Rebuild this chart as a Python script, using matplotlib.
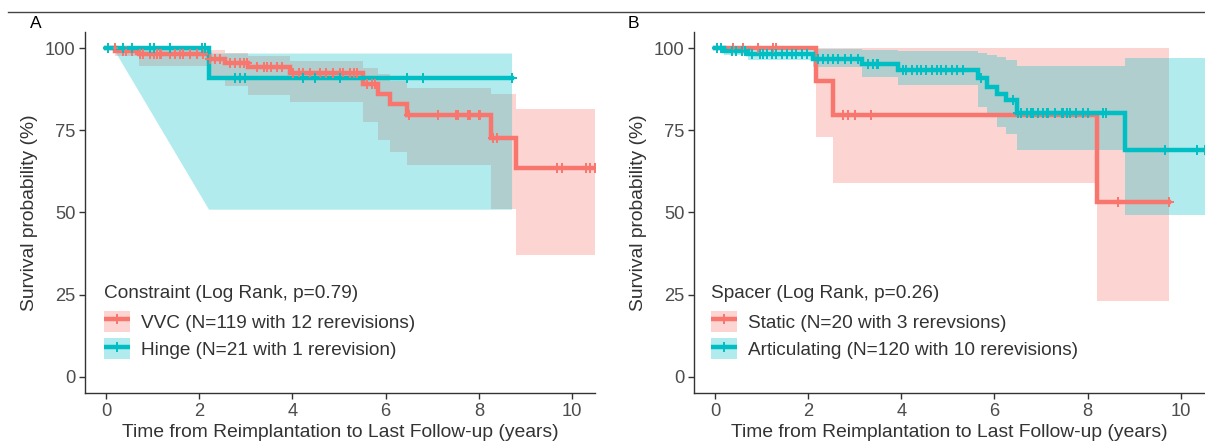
import numpy as np
import matplotlib
matplotlib.use('Agg')
import matplotlib.pyplot as plt
from matplotlib.patches import Patch
from matplotlib.lines import Line2D

plt.rcParams['font.family'] = ['Liberation Sans', 'DejaVu Sans']

RED = '#F8766D'
CYAN = '#00BFC4'

# ---------------- Panel A : Constraint ----------------
vvc_t = [0, 0.2, 0.7, 2.2, 2.55, 3.05, 3.95, 5.52, 5.84, 6.09, 6.45, 8.25, 8.8, 10.48]
vvc_s = [100, 99.1, 98.3, 96.8, 95.4, 94.2, 92.3, 89.1, 86.0, 82.9, 79.7, 72.6, 63.6, 63.6]
vvc_lo = [100, 97.5, 94.5, 91.5, 88.5, 85.7, 83.5, 77.5, 72.0, 68.5, 64.3, 51.0, 37.0, 37.0]
vvc_hi = [100, 100, 99.8, 99.3, 98.6, 97.5, 96.2, 94.0, 92.0, 90.0, 88.0, 86.0, 81.5, 81.5]
vvc_cens = [0.19, 0.37, 0.44, 0.55, 0.73, 0.8, 0.94, 1.02, 1.09, 1.16, 1.19, 1.37, 1.48,
            1.59, 1.66, 1.8, 1.95, 2.09, 2.23, 2.34, 2.45, 2.66, 2.77, 2.88, 2.95, 3.02,
            3.23, 3.38, 3.45, 3.55, 3.66, 3.77, 4.02, 4.13, 4.23, 4.38, 4.59, 4.73, 4.88,
            5.02, 5.09, 5.24, 5.31, 5.38, 5.59, 5.7, 5.77, 6.49, 7.13, 7.5, 7.55, 7.77,
            7.8, 8.0, 8.03, 8.3, 8.38, 9.67, 9.78, 10.3, 10.38, 10.48]

hinge_t = [0, 2.2, 8.7]
hinge_s = [100, 90.9, 90.9]
hinge_ci_t = [0, 0.15, 2.2, 2.2, 8.7]
hinge_lo = [100, 100, 51.0, 51.0, 51.0]
hinge_hi = [100, 100, 100, 98.5, 98.5]
hinge_cens = [0.05, 0.37, 0.55, 0.94, 1.02, 1.37, 2.05, 2.12, 2.77, 2.88, 2.98, 4.23,
              4.48, 5.02, 6.45, 6.81, 8.7]

# ---------------- Panel B : Spacer ----------------
static_t = [0, 2.17, 2.53, 8.2, 9.75]
static_s = [100, 90.0, 79.6, 53.2, 53.2]
static_lo = [100, 73.0, 59.0, 23.0, 23.0]
static_hi = [100, 100, 100, 100, 100]
static_cens = [0.39, 0.61, 0.93, 1.25, 1.32, 2.75, 2.86, 3.0, 3.36, 8.65, 9.75]

art_t = [0, 0.2, 0.7, 2.1, 3.15, 3.93, 5.65, 5.85, 6.05, 6.25, 6.48, 8.8, 10.52]
art_s = [100, 99.2, 98.3, 96.6, 95.3, 93.4, 91.0, 88.3, 86.0, 84.2, 80.4, 69.0, 69.0]
art_lo = [100, 98.0, 96.5, 94.3, 91.3, 88.8, 82.2, 79.0, 76.0, 74.0, 69.0, 49.3, 49.3]
art_hi = [100, 100, 99.8, 99.6, 99.4, 99.2, 98.5, 97.9, 97.4, 96.4, 94.6, 96.9, 96.9]
art_cens = [0.04, 0.14, 0.36, 0.46, 0.57, 0.64, 0.79, 0.97, 1.04, 1.11, 1.22, 1.32, 1.43,
            1.54, 1.65, 1.75, 1.86, 1.97, 2.22, 2.33, 2.43, 2.54, 2.65, 2.79, 2.93, 3.08,
            3.29, 3.4, 3.47, 3.5, 4.04, 4.11, 4.22, 4.33, 4.43, 4.54, 4.65, 4.76, 4.86,
            4.97, 5.08, 5.19, 5.33, 5.72, 6.4, 6.51, 6.58, 6.69, 6.79, 6.83, 6.94, 7.05,
            7.12, 7.15, 7.3, 7.44, 7.47, 7.55, 7.62, 7.76, 7.9, 8.01, 8.33, 8.4, 9.66,
            10.34, 10.51]

x_ticks = [0, 2, 4, 6, 8, 10]
y_ticks = [0, 25, 50, 75, 100]
xlabel = 'Time from Reimplantation to Last Follow-up (years)'
ylabel = 'Survival probability (%)'

legA_title = 'Constraint (Log Rank, p=0.79)'
legA_labels = ['VVC (N=119 with 12 rerevisions)', 'Hinge (N=21 with 1 rerevision)']
legB_title = 'Spacer (Log Rank, p=0.26)'
legB_labels = ['Static (N=20 with 3 rerevsions)', 'Articulating (N=120 with 10 rerevisions)']

TXT = '#333333'
FS_TICK = 13.2
FS_LAB = 13.9
FS_LEG = 13.7


def step_value(t, s, x):
    idx = np.searchsorted(np.asarray(t), np.asarray(x), side='right') - 1
    return np.asarray(s)[idx]


def draw_ribbon(ax, t, lo, hi, color, step=True):
    ax.fill_between(t, lo, hi, step='post' if step else None, color=color,
                    alpha=0.3, lw=0, zorder=1)


def draw_curve(ax, t, s, cens, color):
    ax.step(t, s, where='post', color=color, lw=3.2, zorder=3, solid_joinstyle='miter')
    ax.plot(cens, step_value(t, s, cens), '+', color=color, ms=7, mew=1.4,
            zorder=4, ls='none')


def style_axes(ax, xlim):
    ax.set_xlim(*xlim)
    ax.set_ylim(-4.9, 104.9)
    ax.set_xticks(x_ticks)
    ax.set_yticks(y_ticks)
    for sp in ['top', 'right']:
        ax.spines[sp].set_visible(False)
    for sp in ['left', 'bottom']:
        ax.spines[sp].set_color('#333333')
        ax.spines[sp].set_linewidth(1.0)
    ax.tick_params(axis='both', length=4, width=1, color='#333333', labelcolor='#4D4D4D',
                   labelsize=FS_TICK, pad=3)
    ax.set_xlabel(xlabel, fontsize=FS_LAB, color=TXT, labelpad=3)
    ax.set_ylabel(ylabel, fontsize=FS_LAB, color=TXT, labelpad=5)


def add_legend(ax, title, labels, colors, x0):
    ax.text(x0, (393 - 293) / 361, title, transform=ax.transAxes, fontsize=FS_LEG,
            color=TXT, ha='left', va='center')
    handles = []
    for c in colors:
        patch = Patch(facecolor=c, alpha=0.3, edgecolor='none')
        line = Line2D([], [], color=c, lw=3.2, marker='+', ms=7, mew=1.4,
                      solid_capstyle='butt')
        handles.append((patch, line))
    leg = ax.legend(handles, labels, loc='upper left',
                    bbox_to_anchor=(x0, (393 - 311) / 361), frameon=False,
                    fontsize=FS_LEG, handlelength=1.37, handleheight=1.3,
                    handletextpad=0.58, labelspacing=0.34, borderpad=0,
                    borderaxespad=0)
    for txt in leg.get_texts():
        txt.set_color(TXT)


fig = plt.figure(figsize=(12.05, 4.44), dpi=100)
axA = fig.add_axes([85 / 1205, 51 / 444, 510 / 1205, 361 / 444])
axB = fig.add_axes([694 / 1205, 51 / 444, 511 / 1205, 361 / 444])

# Panel A
draw_ribbon(axA, vvc_t, vvc_lo, vvc_hi, RED)
draw_ribbon(axA, hinge_ci_t, hinge_lo, hinge_hi, CYAN, step=False)
draw_curve(axA, vvc_t, vvc_s, vvc_cens, RED)
draw_curve(axA, hinge_t, hinge_s, hinge_cens, CYAN)
style_axes(axA, (-0.45, 10.49))
add_legend(axA, legA_title, legA_labels, [RED, CYAN], (104 - 85) / 510)

# Panel B
draw_ribbon(axB, static_t, static_lo, static_hi, RED)
draw_ribbon(axB, art_t, art_lo, art_hi, CYAN)
draw_curve(axB, static_t, static_s, static_cens, RED)
draw_curve(axB, art_t, art_s, art_cens, CYAN)
style_axes(axB, (-0.45, 10.52))
add_legend(axB, legB_title, legB_labels, [RED, CYAN], (711 - 694) / 511)

# top rule and panel letters
fig.add_artist(Line2D([8 / 1205, 1.0], [1 - 11.7 / 444, 1 - 11.7 / 444],
                      color='#444444', lw=1.0))
fig.text(30 / 1205, 1 - 24 / 444, 'A', fontsize=12.5, va='center', ha='left', color='black')
fig.text(628 / 1205, 1 - 24 / 444, 'B', fontsize=12.5, va='center', ha='left', color='black')

fig.savefig('out.png', dpi=100)
